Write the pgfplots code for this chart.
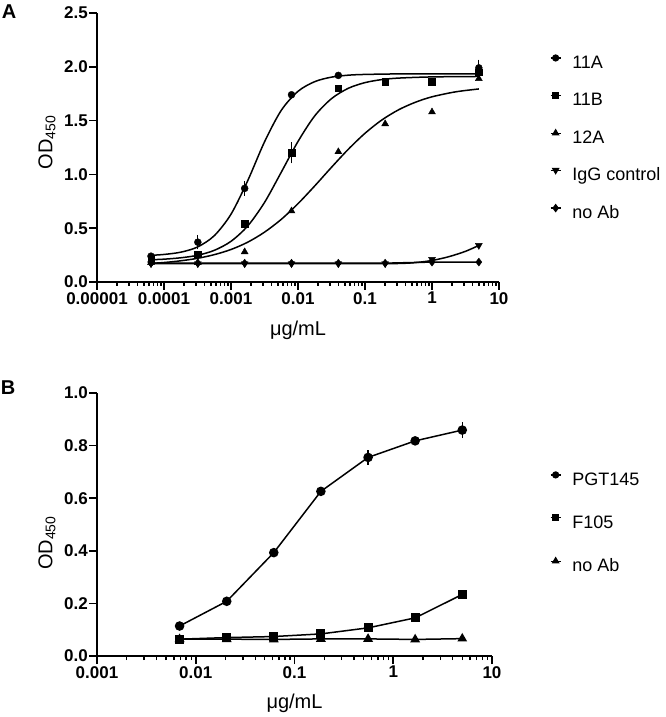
\documentclass[border=0pt]{standalone}
\usepackage{pgfplots}
\pgfplotsset{compat=1.18}
\usepackage{fontspec}
\setmainfont{Liberation Sans}
\newcommand\tickfont{\bfseries\fontsize{17}{17}\selectfont}
\newcommand\labfont{\fontsize{20}{22}\selectfont}
\newcommand\legfont{\fontsize{18}{20}\selectfont}
\begin{document}
\begin{tikzpicture}[x=1pt,y=1pt]
\path[use as bounding box] (0,0) rectangle (666,717);
\node[font=\bfseries\fontsize{20}{20}\selectfont, inner sep=0pt] at (9,705.5) {A};
\node[font=\bfseries\fontsize{20}{20}\selectfont, inner sep=0pt] at (8,329.5) {B};

% ---------------- Panel A ----------------
\begin{axis}[
  scale only axis, xmode=log,
  axis x line=bottom, axis y line=left,
  axis line style={-, line width=1.6pt},
  major tick style={line width=1.6pt, black},
  minor tick style={line width=1.4pt, black},
  tick align=outside, major tick length=8pt, minor tick length=4pt,
  ticklabel style={font=\tickfont},
  yticklabel style={inner sep=1pt},
  xticklabel style={inner sep=2pt},
  clip=false,
  at={(97pt,435pt)}, anchor=south west,
  width=402pt, height=269pt,
  xmin=1e-5, xmax=10, ymin=0, ymax=2.5,
  xtick={1e-5,1e-4,1e-3,1e-2,1e-1,1,10},
  xticklabels={0.00001,0.0001,0.001,0.01,0.1,1,10},
  minor xtick={2e-5,3e-5,4e-5,5e-5,6e-5,7e-5,8e-5,9e-5,
    2e-4,3e-4,4e-4,5e-4,6e-4,7e-4,8e-4,9e-4,
    2e-3,3e-3,4e-3,5e-3,6e-3,7e-3,8e-3,9e-3,
    0.02,0.03,0.04,0.05,0.06,0.07,0.08,0.09,
    0.2,0.3,0.4,0.5,0.6,0.7,0.8,0.9,
    2,3,4,5,6,7,8,9},
  ytick={0,0.5,1,1.5,2,2.5},
  yticklabels={0.0,0.5,1.0,1.5,2.0,2.5},
  xlabel={μg/mL},
  xlabel style={font=\labfont, at={(rel axis cs:0.5,0)}, anchor=center, yshift=-48pt},
  ylabel={OD\textsubscript{450}},
  ylabel style={font=\labfont, at={([xshift=-50pt]rel axis cs:0,0.52)}, anchor=center, rotate=0},
  legend cell align=left,
  legend style={draw=none, fill=none, font=\legfont, inner sep=0pt, outer sep=0pt,
    at={(1.127,0.844)}, anchor=north west, row sep=20pt, column sep=11pt,
    nodes={inner sep=0pt, text height=13pt, text depth=4pt}},
  legend image code/.code={\draw[mark repeat=2,mark phase=2,#1] plot coordinates {(-5pt,6pt) (0pt,6pt) (5pt,6pt)};},
]
% curves
\addplot[black, line width=1.5pt, smooth, no marks, forget plot] coordinates {(6.4e-5,0.248) (1e-4,0.256) (1.778e-4,0.277) (3.162e-4,0.325) (5.623e-4,0.430) (1e-3,0.630) (1.778e-3,0.942) (3.162e-3,1.302) (5.623e-3,1.595) (0.01,1.772) (0.01778,1.862) (0.03162,1.904) (0.05623,1.922) (0.1,1.929) (0.3162,1.934) (1,1.935) (5,1.935)};
\addplot[black, line width=1.5pt, smooth, no marks, forget plot] coordinates {(6.4e-5,0.207) (1e-4,0.212) (1.778e-4,0.225) (3.162e-4,0.248) (5.623e-4,0.294) (1e-3,0.378) (1.778e-3,0.521) (3.162e-3,0.739) (5.623e-3,1.020) (0.01,1.306) (0.01778,1.544) (0.03162,1.704) (0.05623,1.800) (0.1,1.853) (0.1778,1.881) (0.3162,1.895) (1,1.906) (5,1.910)};
\addplot[black, line width=1.5pt, smooth, no marks, forget plot] coordinates {(6.4e-5,0.173) (1e-4,0.181) (1.778e-4,0.197) (3.162e-4,0.220) (5.623e-4,0.254) (1e-3,0.302) (1.778e-3,0.370) (3.162e-3,0.463) (5.623e-3,0.582) (0.01,0.728) (0.01778,0.893) (0.03162,1.066) (0.05623,1.233) (0.1,1.382) (0.1778,1.505) (0.3162,1.600) (0.5623,1.670) (1,1.721) (2.239,1.767) (5,1.794)};
\addplot[black, line width=1.5pt, smooth, no marks, forget plot] coordinates {(6.4e-5,0.17) (0.01,0.17) (0.1,0.17) (0.3162,0.172) (0.5623,0.18) (1,0.20) (1.778,0.235) (3.162,0.285) (5,0.34)};
\addplot[black, line width=1.5pt, no marks, forget plot] coordinates {(6.4e-5,0.175) (3.2e-4,0.175) (1.6e-3,0.175) (8e-3,0.175) (0.04,0.175) (0.2,0.175) (1,0.185) (5,0.185)};
% points
\addplot[black, only marks, mark=diamond*, mark size=4pt, forget plot] coordinates {(6.4e-5,0.175) (3.2e-4,0.175) (1.6e-3,0.175) (8e-3,0.175) (0.04,0.175) (0.2,0.175) (1,0.185) (5,0.185)};
\addplot[black, only marks, mark=triangle*, mark options={rotate=180}, mark size=4pt, forget plot] coordinates {(6.4e-5,0.17) (3.2e-4,0.17) (1.6e-3,0.17) (8e-3,0.17) (0.04,0.17) (0.2,0.17) (1,0.21) (5,0.34)};
\addplot[black, only marks, mark=triangle*, mark size=4pt, forget plot] coordinates {(6.4e-5,0.18) (3.2e-4,0.18) (1.6e-3,0.28) (8e-3,0.66) (0.04,1.21) (0.2,1.47) (1,1.58) (5,1.89)};
\addplot[black, only marks, mark=square*, mark size=3.3pt, forget plot,
  error bars/.cd, y dir=both, y explicit, error bar style={line width=1.2pt}, error mark options={line width=1.2pt, mark size=4pt}]
  coordinates {(6.4e-5,0.21) (3.2e-4,0.26) (1.6e-3,0.54) (8e-3,1.20) +- (0,0.06) (0.04,1.80) (0.2,1.86) (1,1.86) (5,1.95)};
\addplot[black, only marks, mark=*, mark size=3.5pt, forget plot,
  error bars/.cd, y dir=both, y explicit, error bar style={line width=1.2pt}, error mark options={line width=1.2pt, mark size=4pt}]
  coordinates {(6.4e-5,0.24) (3.2e-4,0.37) +- (0,0.03) (1.6e-3,0.87) +- (0,0.03) (8e-3,1.74) (0.04,1.92) (5,1.99) +- (0,0.04)};
% legend
\addlegendimage{black, line width=1.2pt, mark=*, mark size=3pt}
\addlegendentry{11A}
\addlegendimage{black, line width=1.2pt, mark=square*, mark size=2.8pt}
\addlegendentry{11B}
\addlegendimage{black, line width=1.2pt, mark=triangle*, mark size=3.4pt}
\addlegendentry{12A}
\addlegendimage{black, line width=1.2pt, mark=triangle*, mark options={rotate=180}, mark size=3.4pt}
\addlegendentry{IgG control}
\addlegendimage{black, line width=1.2pt, mark=diamond*, mark size=3.4pt}
\addlegendentry{no Ab}
\end{axis}

% ---------------- Panel B ----------------
\begin{axis}[
  scale only axis, xmode=log,
  axis x line=bottom, axis y line=left,
  axis line style={-, line width=1.6pt},
  major tick style={line width=1.6pt, black},
  minor tick style={line width=1.4pt, black},
  tick align=outside, major tick length=8pt, minor tick length=4pt,
  ticklabel style={font=\tickfont},
  yticklabel style={inner sep=1pt},
  xticklabel style={inner sep=2pt},
  clip=false,
  at={(97pt,61pt)}, anchor=south west,
  width=395pt, height=263pt,
  xmin=1e-3, xmax=10, ymin=0, ymax=1,
  xtick={1e-3,1e-2,1e-1,1,10},
  xticklabels={0.001,0.01,0.1,1,10},
  minor xtick={2e-3,3e-3,4e-3,5e-3,6e-3,7e-3,8e-3,9e-3,
    0.02,0.03,0.04,0.05,0.06,0.07,0.08,0.09,
    0.2,0.3,0.4,0.5,0.6,0.7,0.8,0.9,
    2,3,4,5,6,7,8,9},
  ytick={0,0.2,0.4,0.6,0.8,1},
  yticklabels={0.0,0.2,0.4,0.6,0.8,1.0},
  xlabel={μg/mL},
  xlabel style={font=\labfont, at={(rel axis cs:0.5,0)}, anchor=center, yshift=-47pt},
  ylabel={OD\textsubscript{450}},
  ylabel style={font=\labfont, at={([xshift=-50pt]rel axis cs:0,0.43)}, anchor=center},
  legend cell align=left,
  legend style={draw=none, fill=none, font=\legfont, inner sep=0pt, outer sep=0pt,
    at={(1.147,0.70)}, anchor=north west, row sep=25.5pt, column sep=11pt,
    nodes={inner sep=0pt, text height=13pt, text depth=4pt}},
  legend image code/.code={\draw[mark repeat=2,mark phase=2,#1] plot coordinates {(-5pt,6pt) (0pt,6pt) (5pt,6pt)};},
]
\addplot[black, line width=1.5pt, mark=triangle*, mark size=4.2pt, forget plot] coordinates {(0.00686,0.064) (0.0206,0.064) (0.0617,0.063) (0.185,0.065) (0.556,0.065) (1.667,0.063) (5,0.066)};
\addplot[black, line width=1.5pt, mark=square*, mark size=3.7pt, forget plot] coordinates {(0.00686,0.064) (0.0206,0.070) (0.0617,0.074) (0.185,0.084) (0.556,0.107) (1.667,0.145) (5,0.234)};
\addplot[black, line width=1.5pt, mark=*, mark size=4pt, forget plot,
  error bars/.cd, y dir=both, y explicit, error bar style={line width=1.2pt}, error mark options={line width=1.2pt, mark size=4pt}]
  coordinates {(0.00686,0.114) (0.0206,0.208) (0.0617,0.393) (0.185,0.626) (0.556,0.755) +- (0,0.012) (1.667,0.818) (5,0.859) +- (0,0.015)};
\addlegendimage{black, line width=1.2pt, mark=*, mark size=3pt}
\addlegendentry{PGT145}
\addlegendimage{black, line width=1.2pt, mark=square*, mark size=2.8pt}
\addlegendentry{F105}
\addlegendimage{black, line width=1.2pt, mark=triangle*, mark size=3.4pt}
\addlegendentry{no Ab}
\end{axis}
\end{tikzpicture}
\end{document}
